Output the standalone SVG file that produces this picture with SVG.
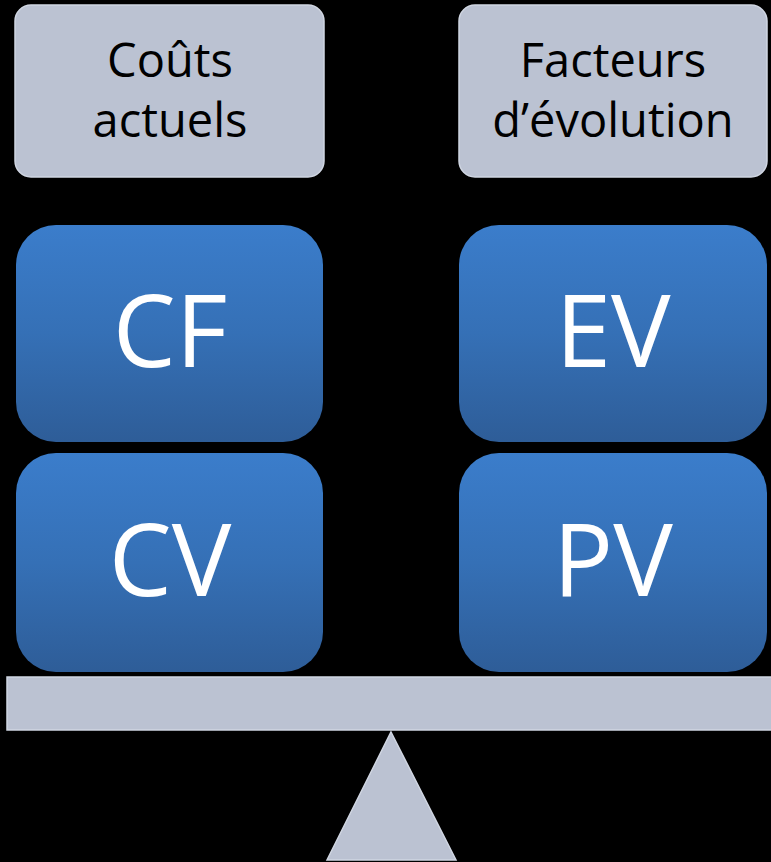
<svg xmlns="http://www.w3.org/2000/svg" width="771" height="862" viewBox="0 0 771 862">
<defs>
<linearGradient id="blue" x1="0" y1="0" x2="0" y2="1">
<stop offset="0" stop-color="#3b7dcb"/>
<stop offset="0.5" stop-color="#3570b6"/>
<stop offset="1" stop-color="#2e5d98"/>
</linearGradient>
<style>
.lbl{fill:#bbc2d2;stroke:#d0d6e2;stroke-width:1.5}
.blk{fill:url(#blue)}
.t1{font-family:"Open Sans","Noto Sans",sans-serif;font-size:47px;fill:#000;text-anchor:middle}
.t2{font-family:"Open Sans","Noto Sans",sans-serif;font-size:100px;fill:#fff;text-anchor:middle}
.base{fill:#bbc2d2;stroke:#d0d6e2;stroke-width:1.5}
</style>
</defs>
<rect width="771" height="862" fill="#000"/>
<g id="couts-actuels">
<rect class="lbl" x="15" y="5" width="309" height="172" rx="16"/>
<text class="t1" x="170" y="77">Coûts</text>
<text class="t1" x="170" y="137">actuels</text>
</g>
<g id="facteurs-evolution">
<rect class="lbl" x="459" y="5" width="308" height="172" rx="16"/>
<text class="t1" x="613" y="77">Facteurs</text>
<text class="t1" x="613" y="137">d’évolution</text>
</g>
<g id="CF">
<rect class="blk" x="16" y="225" width="307" height="217" rx="40"/>
<text class="t2" x="170" y="367">CF</text>
</g>
<g id="CV">
<rect class="blk" x="16" y="453" width="307" height="219" rx="40"/>
<text class="t2" x="170" y="596">CV</text>
</g>
<g id="EV">
<rect class="blk" x="459" y="225" width="308" height="217" rx="40"/>
<text class="t2" x="613" y="367">EV</text>
</g>
<g id="PV">
<rect class="blk" x="459" y="453" width="308" height="219" rx="40"/>
<text class="t2" x="613" y="596">PV</text>
</g>
<g id="balance">
<rect class="base" x="7" y="677" width="770" height="53"/>
<polygon class="base" points="391,732 456,860 327,860"/>
</g>
<g id="connectors"></g>
</svg>
